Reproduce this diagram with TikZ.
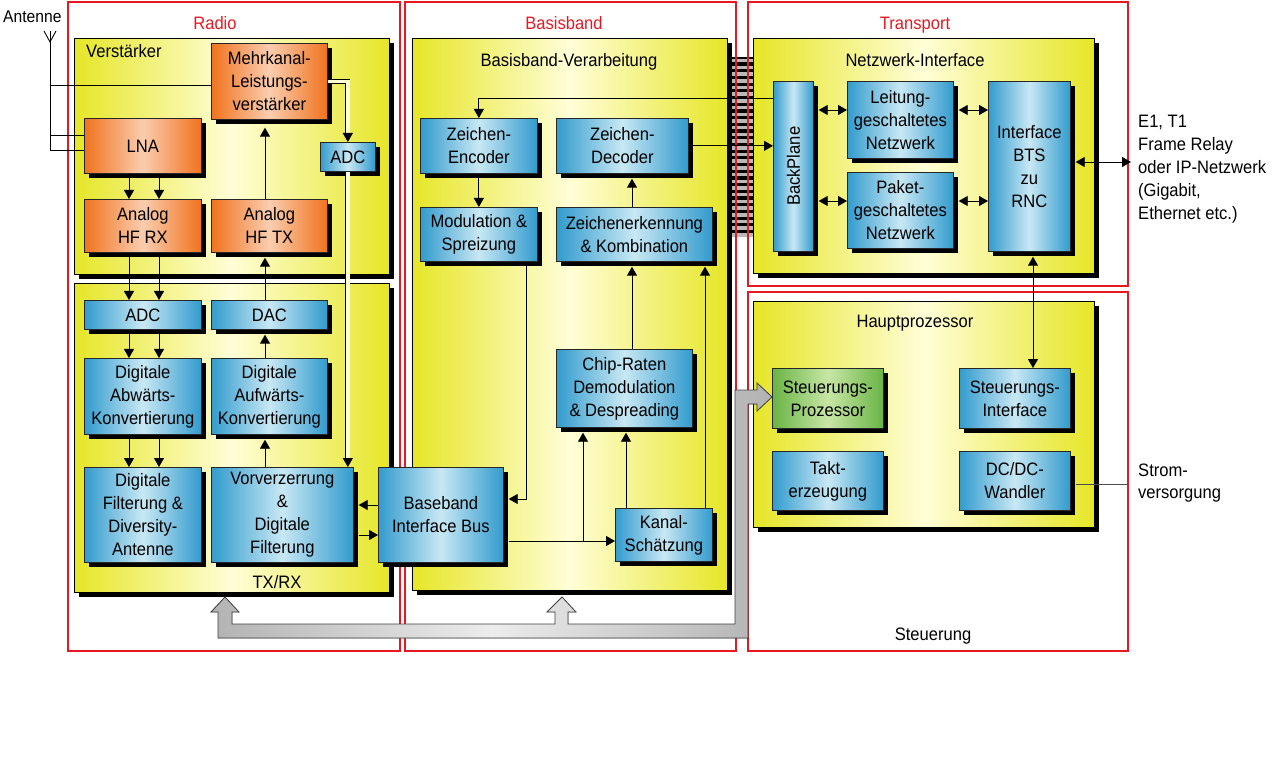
\documentclass[tikz,border=0pt]{standalone}
\usepackage{fontspec}
\setmainfont{Liberation Sans}[FakeStretch=0.92]
\usetikzlibrary{arrows.meta,shadows,calc}
\definecolor{frred}{RGB}{230,25,35}
\definecolor{pyel}{RGB}{230,230,40}
\definecolor{pyelc}{RGB}{255,254,215}
\definecolor{bdark}{RGB}{50,155,205}
\definecolor{blight}{RGB}{200,232,244}
\definecolor{odark}{RGB}{240,115,30}
\definecolor{olight}{RGB}{250,205,175}
\definecolor{gdark}{RGB}{105,180,70}
\definecolor{glight}{RGB}{200,230,165}
\tikzset{
  fnt/.style={font=\fontsize{18}{23}\selectfont},
  panel/.style={draw=black, line width=0.7pt, left color=pyel, right color=pyel, middle color=pyelc,
     drop shadow={shadow xshift=5pt, shadow yshift=-5pt, opacity=1, fill=black},
     inner sep=0pt, anchor=north west},
  box/.style={draw=black!85, line width=0.7pt,
     drop shadow={shadow xshift=4.5pt, shadow yshift=-4.5pt, opacity=1, fill=black},
     inner sep=0pt, anchor=north west, align=center, fnt},
  bluebox/.style={box, left color=bdark, right color=bdark, middle color=blight},
  orbox/.style={box, left color=odark, right color=odark, middle color=olight},
  grbox/.style={box, left color=gdark, right color=gdark, middle color=glight},
  ln/.style={draw=black, line width=0.9pt},
  arr/.style={ln, -{Triangle[length=9pt,width=10pt]}},
  darr/.style={ln, {Triangle[length=9pt,width=10pt]}-{Triangle[length=9pt,width=10pt]}},
  dbl/.style={draw=black, double=pyelc, double distance=3.5pt, line width=0.8pt},
  frame/.style={draw=frred, line width=2pt},
  redlbl/.style={text=frred, fnt, anchor=base},
  lbl/.style={fnt, anchor=base},
  busst/.style={draw=gray!50!black, line width=0.8pt, left color=gray!60, right color=gray!60, middle color=gray!15},
}
\begin{document}
\begin{tikzpicture}[x=1pt,y=-1pt]
\useasboundingbox (0,0) rectangle (1280,767);

% ribbon between Basisband and Transport
\fill[black] (727,57) rectangle (753,237);
\foreach \i in {0,...,26} \fill[gray!55] (730,{59+\i*6.7}) rectangle (753,{62.5+\i*6.7});

% red frames
\draw[frame] (68,2) rectangle (400,651);
\draw[frame] (405,2) rectangle (736,651);
\draw[frame] (748,2) rectangle (1128,286);
\draw[frame] (748,292) rectangle (1128,651);
\node[redlbl] (tradio) at (215,30) {Radio};
\node[redlbl] (tbasis) at (564,30) {Basisband};
\node[redlbl] (ttrans) at (915,30) {Transport};
\node[lbl] (tsteu) at (933,640) {Steuerung};

% panels
\node[panel, minimum width=315, minimum height=236] (pV) at (74,38) {};
\node[panel, minimum width=315, minimum height=309] (pT) at (74,283) {};
\node[panel, minimum width=315, minimum height=552] (pB) at (412,38) {};
\node[panel, minimum width=341, minimum height=235] (pN) at (753,38) {};
\node[panel, minimum width=341, minimum height=226] (pH) at (753,301) {};
\node[fnt, anchor=base west, inner sep=0pt] (tV) at (86,58) {Verstärker};
\node[lbl] (tT) at (277,588) {TX/RX};
\node[lbl] (tB) at (569,67) {Basisband-Verarbeitung};
\node[lbl] (tN) at (915,67) {Netzwerk-Interface};
\node[lbl] (tH) at (915,328) {Hauptprozessor};

% Radio boxes
\node[orbox, minimum width=116, minimum height=76] (mk) at (211,43) {Mehrkanal-\\Leistungs-\\verstärker};
\node[orbox, minimum width=117, minimum height=55] (lna) at (84,118) {LNA};
\node[orbox, minimum width=117, minimum height=53] (hfrx) at (84,199) {Analog\\HF RX};
\node[orbox, minimum width=116, minimum height=53] (hftx) at (211,199) {Analog\\HF TX};
\node[bluebox, minimum width=55, minimum height=29] (adc1) at (320,142) {ADC};
\node[bluebox, minimum width=117, minimum height=29] (adc2) at (84,300) {ADC};
\node[bluebox, minimum width=116, minimum height=29] (dac) at (211,300) {DAC};
\node[bluebox, minimum width=117, minimum height=76] (dab) at (84,358) {Digitale\\Abwärts-\\Konvertierung};
\node[bluebox, minimum width=116, minimum height=76] (dauf) at (211,358) {Digitale\\Aufwärts-\\Konvertierung};
\node[bluebox, minimum width=117, minimum height=95] (dfil) at (84,467) {Digitale\\Filterung \&\\Diversity-\\Antenne};
\node[bluebox, minimum width=142, minimum height=95] (vorv) at (211,467) {Vorverzerrung\\\&\\Digitale\\Filterung};

% Basisband boxes
\node[bluebox, minimum width=125, minimum height=95] (bib) at (378,467) {Baseband\\Interface Bus};
\node[bluebox, minimum width=117, minimum height=55] (enc) at (420,118) {Zeichen-\\Encoder};
\node[bluebox, minimum width=132, minimum height=55] (dec) at (556,118) {Zeichen-\\Decoder};
\node[bluebox, minimum width=117, minimum height=54] (mod) at (420,207) {Modulation \&\\Spreizung};
\node[bluebox, minimum width=156, minimum height=54] (zerk) at (556,207) {Zeichenerkennung\\\& Kombination};
\node[bluebox, minimum width=136, minimum height=78] (chip) at (556,349) {Chip-Raten\\Demodulation\\\& Despreading};
\node[bluebox, minimum width=97, minimum height=53] (kanal) at (615,508) {Kanal-\\Schätzung};

% Transport boxes
\node[bluebox, minimum width=40, minimum height=170] (bp) at (773,81) {};
\node[fnt, rotate=90] (tbp) at (bp.center) {BackPlane};
\node[bluebox, minimum width=106, minimum height=77] (leit) at (847,81) {Leitung-\\geschaltetes\\Netzwerk};
\node[bluebox, minimum width=106, minimum height=76] (pak) at (847,172) {Paket-\\geschaltetes\\Netzwerk};
\node[bluebox, minimum width=82, minimum height=170] (ibts) at (988,81) {Interface\\BTS\\zu\\RNC};

% Steuerung boxes
\node[grbox, minimum width=111, minimum height=60] (sp) at (772,368) {Steuerungs-\\Prozessor};
\node[bluebox, minimum width=111, minimum height=60] (si) at (959,368) {Steuerungs-\\Interface};
\node[bluebox, minimum width=111, minimum height=59] (takt) at (772,451) {Takt-\\erzeugung};
\node[bluebox, minimum width=111, minimum height=59] (dcdc) at (959,451) {DC/DC-\\Wandler};

% external texts
\node[font=\fontsize{17}{20}\selectfont, anchor=base west, inner sep=0pt] (tant) at (3,23) {Antenne};
\node[fnt, anchor=north west, align=left, inner sep=0pt] (text) at (1138,115) {E1, T1\\Frame Relay\\oder IP-Netzwerk\\(Gigabit,\\Ethernet etc.)};
\node[font=\fontsize{18}{22}\selectfont, anchor=north west, align=left, inner sep=0pt] (tstrom) at (1138,464) {Strom-\\versorgung};

% guide coordinates
\coordinate (xa) at (129,0);
\coordinate (xb) at (159,0);
\coordinate (xt) at (265,0);
\coordinate (y505) at (0,505);
\coordinate (y535) at (0,535);
\coordinate (ybp) at (0,98);
\coordinate (xmod) at (526,0);
\coordinate (ymb) at (0,499);
\coordinate (xz) at (632,0);
\coordinate (xk) at (705,0);
\coordinate (ykb) at (0,541);
\coordinate (xj) at (583,0);
\coordinate (xk2) at (626,0);
\coordinate (yl) at (0,110);
\coordinate (yp) at (0,201);
\coordinate (ye) at (0,162);
\coordinate (xsi) at (1033,0);
\coordinate (ys) at (0,484);
\coordinate (extp) at (1131,162);
\coordinate (strom) at (1128,484);
\coordinate (atop) at (50,31);
\coordinate (al) at (44,31);
\coordinate (ar) at (56,31);
\coordinate (am) at (50,42);
\coordinate (ay1) at (50,85);
\coordinate (ay2) at (50,135);
\coordinate (ay3) at (50,150);

% antenna
\draw[ln] (al) -- (am) -- (ar);
\draw[ln] (atop) -- (ay3) -- (ay3 -| lna.west);
\draw[ln] (ay1) -- (ay1 -| mk.west);
\draw[ln] (ay2) -- (ay2 -| lna.west);

% Radio connectors
\foreach \xx in {xa,xb} {
  \draw[arr] (lna.south -| \xx) -- (hfrx.north -| \xx);
  \draw[arr] (hfrx.south -| \xx) -- (adc2.north -| \xx);
  \draw[arr] (adc2.south -| \xx) -- (dab.north -| \xx);
  \draw[arr] (dab.south -| \xx) -- (dfil.north -| \xx);
}
\draw[arr, shorten >=8pt] (hftx.north -| xt) -- (mk.south -| xt);
\draw[arr, shorten >=5pt] (dac.north -| xt) -- (hftx.south -| xt);
\draw[arr, shorten >=5pt] (dauf.north -| xt) -- (dac.south -| xt);
\draw[arr, shorten >=5pt] (vorv.north -| xt) -- (dauf.south -| xt);
\draw[dbl, shorten >=8pt] (mk.east) -| (adc1.north);
\draw[arr] ($(adc1.north)+(0,-9)$) -- (adc1.north);
\draw[dbl, shorten >=8pt] (adc1.south) -- (adc1.south |- vorv.north);
\draw[arr] ($(adc1.south |- vorv.north)+(0,-9)$) -- (adc1.south |- vorv.north);
\draw[arr, shorten >=5pt] (bib.west |- y505) -- (vorv.east |- y505);
\draw[arr, shorten <=5pt] (vorv.east |- y535) -- (bib.west |- y535);

% Basisband connectors
\draw[arr] (bp.west |- ybp) -| (enc.north);
\draw[arr] (enc.south) -- (mod.north);
\draw[arr, shorten >=5pt] (mod.south -| xmod) -- (xmod |- ymb) -- (bib.east |- ymb);
\draw[arr, shorten >=5pt] (zerk.north -| xz) -- (dec.south -| xz);
\draw[arr] (dec.east) -- (dec.east -| bp.west);
\draw[arr, shorten >=5pt] (chip.north -| xz) -- (zerk.south -| xz);
\draw[arr, shorten >=5pt] (kanal.north -| xk) -- (zerk.south -| xk);
\draw[arr, shorten <=5pt] (bib.east |- ykb) -- (kanal.west |- ykb);
\draw[arr, shorten >=5pt] (xj |- ykb) -- (chip.south -| xj);
\draw[arr, shorten >=5pt] (kanal.north -| xk2) -- (chip.south -| xk2);

% Transport connectors
\draw[darr, shorten <=5pt] (bp.east |- yl) -- (leit.west |- yl);
\draw[darr, shorten <=5pt] (bp.east |- yp) -- (pak.west |- yp);
\draw[darr, shorten <=5pt] (leit.east |- yl) -- (ibts.west |- yl);
\draw[darr, shorten <=5pt] (pak.east |- yp) -- (ibts.west |- yp);
\draw[darr, shorten <=5pt] (ibts.east |- ye) -- (extp);
\draw[darr, shorten >=5pt] (si.north -| xsi) -- (ibts.south -| xsi);
\draw[draw=black!70, line width=0.9pt, shorten <=5pt] (dcdc.east |- ys) -- (strom);

% gray control bus
\filldraw[busst] (225,597) -- (239,612) -- (232,612) -- (232,624) -- (555,624) -- (555,612) -- (547,612) -- (562,597) -- (576,612) -- (568,612) -- (568,624) -- (735,624) -- (735,390) -- (757,390) -- (757,383) -- (772,397) -- (757,411) -- (757,404) -- (748,404) -- (748,638) -- (218,638) -- (218,612) -- (211,612) -- cycle;
\end{tikzpicture}
\end{document}
